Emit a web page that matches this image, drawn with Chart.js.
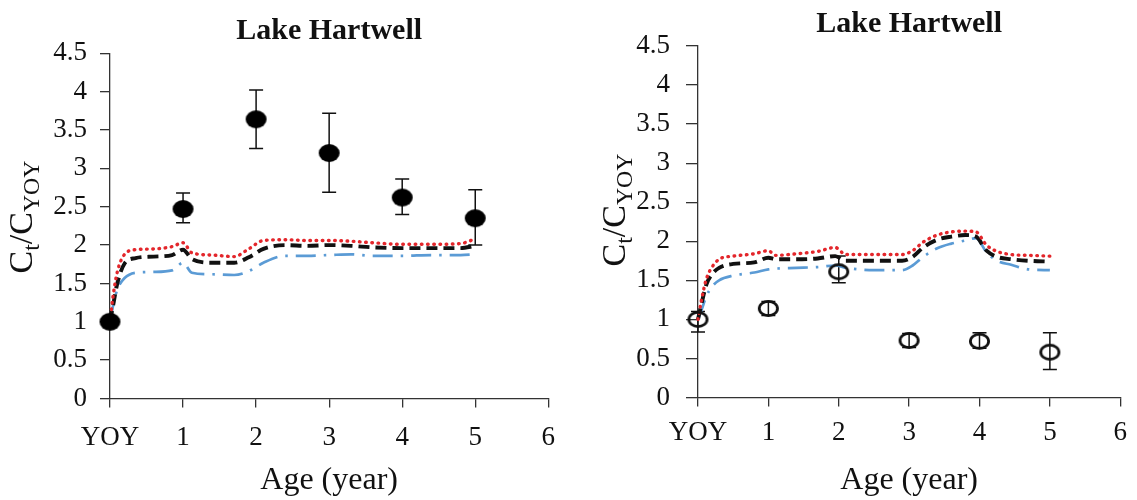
<!DOCTYPE html>
<html>
<head>
<meta charset="utf-8">
<script src="https://cdn.jsdelivr.net/npm/chart.js@4.4.1/dist/chart.umd.min.js"></script>
<style>
  html, body { margin: 0; padding: 0; background: #fff; }
  #wrap { position: relative; width: 1137px; height: 500px; overflow: hidden; }
  .pane { position: absolute; top: 0; height: 500px; }
  .ylab { position: absolute; width: 200px; height: 34px; line-height: 34px; text-align: center;
          font-family: "Liberation Serif", "Times New Roman", serif; font-size: 34px; color: #111;
          transform: rotate(-90deg); transform-origin: 50% 50%; white-space: nowrap; }
  .ylab sub { font-size: 0.7em; vertical-align: baseline; position: relative; top: 0.28em; }
</style>
</head>
<body>
<div id="wrap">
  <div class="pane" style="left:0;width:570px;"><canvas id="c1"></canvas></div>
  <div class="pane" style="left:570px;width:567px;"><canvas id="c2"></canvas></div>
  <div class="ylab" style="left:-79px;top:200px;">C<sub>t</sub>/C<sub>YOY</sub></div>
  <div class="ylab" style="left:514px;top:193px;">C<sub>t</sub>/C<sub>YOY</sub></div>
</div>
<script>
// ---------------- data ----------------
const chartTitle = 'Lake Hartwell';
const xTitle = 'Age (year)';
const xTickLabels = ['YOY', '1', '2', '3', '4', '5', '6'];
const yTickLabels = ['0', '0.5', '1', '1.5', '2', '2.5', '3', '3.5', '4', '4.5'];

const ages = [0, 1, 2, 3, 4, 5];

// left panel: observed (filled circles) with error bars
const leftObs  = [1.00, 2.47, 3.64, 3.20, 2.62, 2.35];
const leftLow  = [1.00, 2.29, 3.26, 2.69, 2.40, 2.00];
const leftHigh = [1.00, 2.68, 4.02, 3.72, 2.86, 2.72];

// right panel: observed (open circles) with error bars
const rightObs  = [1.00, 1.14, 1.61, 0.73, 0.72, 0.58];
const rightLow  = [0.84, 1.05, 1.47, 0.64, 0.63, 0.36];
const rightHigh = [1.10, 1.23, 1.81, 0.82, 0.83, 0.83];

// left panel model curves
const leftGrid  = [0, 0.04, 0.1, 0.2, 0.35, 0.6, 0.85, 1.0, 1.12, 1.4, 1.7, 1.9, 2.1, 2.4, 2.7, 3.0, 3.3, 3.6, 4.0, 4.4, 4.8, 5.0];
const leftRed   = [1.0, 1.32, 1.65, 1.88, 1.94, 1.95, 1.98, 2.03, 1.90, 1.87, 1.85, 1.95, 2.06, 2.07, 2.06, 2.06, 2.05, 2.03, 2.01, 2.01, 2.02, 2.08];
const leftBlack = [1.0, 1.20, 1.50, 1.76, 1.83, 1.85, 1.87, 1.94, 1.82, 1.77, 1.77, 1.84, 1.95, 2.00, 1.99, 2.00, 1.99, 1.97, 1.96, 1.96, 1.96, 1.99];
const leftBlue  = [1.0, 1.20, 1.42, 1.57, 1.64, 1.65, 1.67, 1.77, 1.64, 1.62, 1.61, 1.66, 1.77, 1.86, 1.86, 1.87, 1.88, 1.86, 1.86, 1.87, 1.87, 1.88];

// right panel model curves
const rightGrid  = [0, 0.05, 0.12, 0.2, 0.3, 0.5, 0.8, 1.0, 1.1, 1.4, 1.7, 1.95, 2.1, 2.5, 2.9, 3.05, 3.2, 3.4, 3.6, 3.8, 3.95, 4.1, 4.25, 4.45, 4.7, 5.0];
const rightRed   = [1.0, 1.25, 1.52, 1.67, 1.77, 1.81, 1.84, 1.88, 1.82, 1.84, 1.87, 1.92, 1.83, 1.83, 1.83, 1.88, 1.99, 2.08, 2.12, 2.13, 2.12, 1.95, 1.87, 1.83, 1.82, 1.81];
const rightBlack = [1.0, 1.20, 1.45, 1.58, 1.66, 1.71, 1.73, 1.79, 1.77, 1.77, 1.78, 1.81, 1.75, 1.75, 1.75, 1.80, 1.92, 2.02, 2.06, 2.08, 2.06, 1.88, 1.80, 1.77, 1.75, 1.74];
const rightBlue  = [1.0, 1.12, 1.30, 1.42, 1.50, 1.56, 1.60, 1.64, 1.65, 1.66, 1.67, 1.69, 1.66, 1.63, 1.63, 1.69, 1.80, 1.91, 1.97, 2.01, 2.04, 1.86, 1.75, 1.70, 1.64, 1.63];

// ---------------- helpers ----------------
const SERIF = '"Liberation Serif", "Times New Roman", serif';
const AXIS = '#333';
const TEXT = '#111';

function pts(xs, ys) { return xs.map((x, i) => ({ x: x, y: ys[i] })); }

function ellipseMarker(w, h, filled) {
  const c = document.createElement('canvas');
  c.width = w + 4; c.height = h + 4;
  const g = c.getContext('2d');
  g.beginPath();
  g.ellipse(c.width / 2, c.height / 2, w / 2 - (filled ? 0 : 1.4), h / 2 - (filled ? 0 : 1.4), 0, 0, Math.PI * 2);
  if (filled) { g.fillStyle = '#000'; g.fill(); }
  else { g.lineWidth = 2.8; g.strokeStyle = '#111'; g.stroke(); }
  return c;
}

const errorBarPlugin = {
  id: 'errorBars',
  beforeDatasetsDraw(chart, args, opts) {
    const { ctx, scales: { x, y } } = chart;
    ctx.save();
    ctx.strokeStyle = '#111';
    ctx.lineWidth = 1.5;
    opts.xs.forEach((xv, i) => {
      const lo = opts.low[i], hi = opts.high[i];
      if (hi - lo <= 0) return;
      const px = x.getPixelForValue(xv);
      const p1 = y.getPixelForValue(lo), p2 = y.getPixelForValue(hi);
      const cw = opts.cap;
      ctx.beginPath();
      ctx.moveTo(px, p1); ctx.lineTo(px, p2);
      ctx.moveTo(px - cw, p1); ctx.lineTo(px + cw, p1);
      ctx.moveTo(px - cw, p2); ctx.lineTo(px + cw, p2);
      ctx.stroke();
    });
    ctx.restore();
  }
};

function curve(xs, ys, color, width, dash, cap) {
  return {
    type: 'line', data: pts(xs, ys), showLine: true, pointRadius: 0, pointHoverRadius: 0,
    borderColor: color, borderWidth: width, borderDash: dash, borderCapStyle: cap || 'butt',
    cubicInterpolationMode: 'monotone', fill: false, clip: false, order: 2
  };
}

function makeChart(id, cfg) {
  return new Chart(document.getElementById(id), {
    type: 'scatter',
    data: {
      datasets: [
        {
          data: pts(ages, cfg.obs), pointStyle: cfg.marker, pointRadius: 10, pointHoverRadius: 10,
          showLine: false, clip: false, order: 0
        },
        curve(cfg.grid, cfg.red,   '#e3262b', 3.4, [0.6, 5.6], 'round'),
        curve(cfg.grid, cfg.black, '#111111', 3.9, [11, 6]),
        curve(cfg.grid, cfg.blue,  '#5b9bd5', 2.7, [20, 8, 2.5, 8])
      ]
    },
    plugins: [errorBarPlugin],
    options: {
      responsive: true, maintainAspectRatio: false, animation: false,
      events: [],
      layout: { padding: { left: 0, right: cfg.padRight, top: 0, bottom: 0 } },
      plugins: {
        legend: { display: false },
        tooltip: { enabled: false },
        title: {
          display: true, text: chartTitle, fullSize: false, color: TEXT,
          font: { family: SERIF, size: 30, weight: 'bold', lineHeight: 1.2 },
          padding: { top: cfg.titleTop, bottom: cfg.titleBottom }
        },
        errorBars: { xs: ages, low: cfg.low, high: cfg.high, cap: 7 }
      },
      scales: {
        x: {
          type: 'linear', min: 0, max: 6,
          afterFit(s) { s.height = cfg.xHeight; },
          afterBuildTicks(s) { s.ticks = xTickLabels.map((t, i) => ({ value: i })); },
          ticks: {
            color: TEXT, font: { family: SERIF, size: 27 }, padding: cfg.xPad,
            maxRotation: 0, autoSkip: false,
            callback: (v, i) => xTickLabels[i]
          },
          grid: { display: true, drawOnChartArea: false, drawTicks: true, tickLength: 9, color: AXIS, lineWidth: 1.3 },
          border: { display: true, color: AXIS, width: 1.3 },
          title: { display: true, text: xTitle, color: TEXT, font: { family: SERIF, size: 32, lineHeight: 1.2 }, padding: { top: 0, bottom: 0 } }
        },
        y: {
          type: 'linear', min: 0, max: 4.5,
          afterFit(s) { s.width = cfg.yWidth; },
          afterBuildTicks(s) { s.ticks = yTickLabels.map(t => ({ value: parseFloat(t) })); },
          ticks: {
            color: TEXT, font: { family: SERIF, size: 27 }, padding: cfg.yPad, autoSkip: false,
            callback: (v, i) => yTickLabels[i]
          },
          grid: { display: true, drawOnChartArea: false, drawTicks: true, tickLength: cfg.yTick, color: AXIS, lineWidth: 1.3 },
          border: { display: true, color: AXIS, width: 1.3 }
        }
      }
    }
  });
}

makeChart('c1', {
  obs: leftObs, low: leftLow, high: leftHigh, marker: ellipseMarker(21, 18, true),
  grid: leftGrid, red: leftRed, black: leftBlack, blue: leftBlue,
  padRight: 21.7, yWidth: 110, xHeight: 101.5, titleTop: 13, titleBottom: 4.3,
  xPad: 14, yPad: 13, yTick: 10
});

makeChart('c2', {
  obs: rightObs, low: rightLow, high: rightHigh, marker: ellipseMarker(21, 17, false),
  grid: rightGrid, red: rightRed, black: rightBlack, blue: rightBlue,
  padRight: 11, yWidth: 128, xHeight: 102.5, titleTop: 6, titleBottom: 4,
  xPad: 10, yPad: 16, yTick: 12
});
</script>
</body>
</html>
